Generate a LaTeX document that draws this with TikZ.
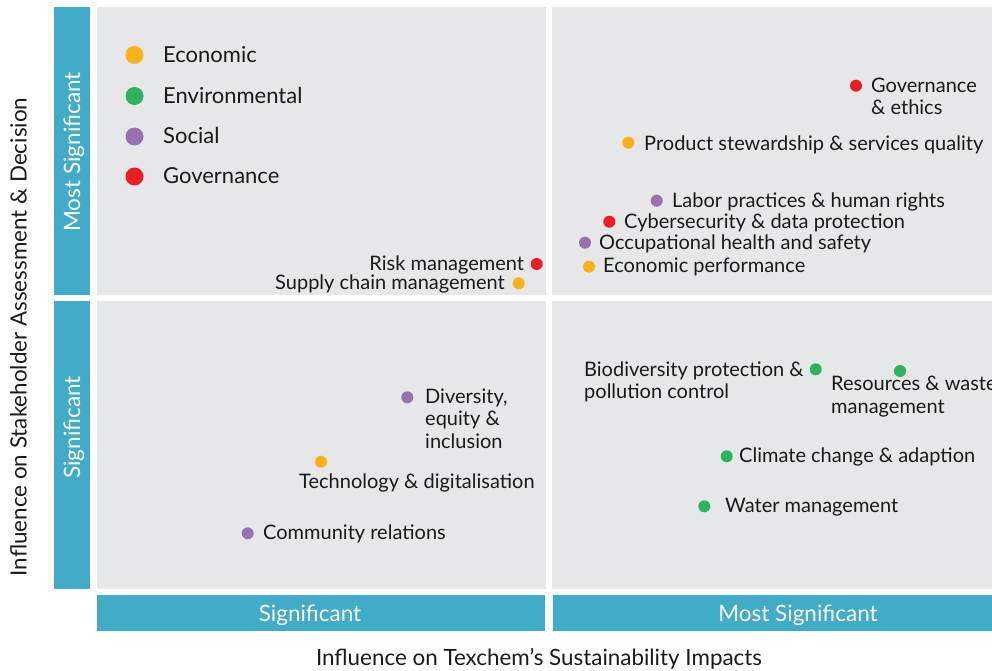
\documentclass[tikz,border=0pt]{standalone}
\usepackage{fontspec}
\setmainfont{Lato}
\definecolor{panelgray}{HTML}{E6E7E8}
\definecolor{barblue}{HTML}{40ACC7}
\definecolor{ecoc}{HTML}{FBB117}
\definecolor{envc}{HTML}{2BB45B}
\definecolor{socc}{HTML}{9A70B0}
\definecolor{govc}{HTML}{ED1C24}
\definecolor{txt}{HTML}{1A1A1A}
\tikzset{
  panel/.style={fill=panelgray, draw=none},
  bar/.style={fill=barblue, draw=none},
  dot/.style={circle, inner sep=0pt, minimum size=12pt, draw=none, fill=#1},
  bigdot/.style={circle, inner sep=0pt, minimum size=18pt, draw=none, fill=#1},
  lbl/.style={font=\fontsize{20}{22.5}\selectfont, text=txt, inner sep=0pt, align=left},
  leg/.style={font=\fontsize{22}{26}\selectfont, text=txt, inner sep=0pt, anchor=base west},
  barlbl/.style={font=\fontsize{22.5}{26}\selectfont, text=white, inner sep=0pt, anchor=base},
  axlbl/.style={font=\fontsize{22.4}{26}\selectfont, text=txt, inner sep=0pt, anchor=base},
}
\begin{document}
\begin{tikzpicture}[x=1pt,y=-1pt]
\useasboundingbox (0,0) rectangle (992,671);
% panels
\fill[panel] (97,7) rectangle (546,295);
\fill[panel] (552,7) rectangle (992,295);
\fill[panel] (97,301) rectangle (546,589);
\fill[panel] (552,301) rectangle (992,589);
% bars
\fill[bar] (54,7) rectangle (90,295);
\fill[bar] (54,301) rectangle (90,589);
\fill[bar] (97,595) rectangle (545,631);
\fill[bar] (553,595) rectangle (992,631);
\node[barlbl, rotate=90] (ylab1) at (80,152) {Most Significant};
\node[barlbl, rotate=90] (ylab2) at (80,427.5) {Significant};
\node[barlbl] (xlab1) at (310,621) {Significant};
\node[barlbl] (xlab2) at (798,621) {Most Significant};
% axis titles
\node[axlbl, rotate=90] (yaxis) at (26.7,337) {Influence on Stakeholder Assessment \& Decision};
\node[axlbl] (xaxis) at (539,665) {Influence on Texchem’s Sustainability Impacts};
% legend
\node[bigdot=ecoc] (l1) at (134.5,55) {};
\node[bigdot=envc] (l2) at (134.5,96) {};
\node[bigdot=socc] (l3) at (134.5,136.5) {};
\node[bigdot=govc] (l4) at (134.5,176.5) {};
\node[leg] (l1t) at (163,62.7) {Economic};
\node[leg] (l2t) at (163,103.3) {Environmental};
\node[leg] (l3t) at (163,143.3) {Social};
\node[leg] (l4t) at (163,183.3) {Governance};
% top-right
\node[dot=govc] (d1) at (856,85.7) {};
\node[lbl, anchor=base west] (t1) at (871,115) {Governance\\\& ethics};
\node[dot=ecoc] (d2) at (628.3,142.7) {};
\node[lbl, anchor=base west] (t2) at (644,150.7) {Product stewardship \& services quality};
\node[dot=socc] (d3) at (656.7,200.7) {};
\node[lbl, anchor=base west] (t3) at (672,207.3) {Labor practices \& human rights};
\node[dot=govc] (d4) at (609.3,221.7) {};
\node[lbl, anchor=base west] (t4) at (624,228.3) {Cybersecurity \& data protection};
\node[dot=socc] (d5) at (585,242.7) {};
\node[lbl, anchor=base west] (t5) at (599,249.3) {Occupational health and safety};
\node[dot=ecoc] (d6) at (589,266.7) {};
\node[lbl, anchor=base west] (t6) at (603,272) {Economic performance};
% top-left
\node[dot=govc] (d7) at (536.7,264) {};
\node[lbl, anchor=base east] (t7) at (524.3,270) {Risk management};
\node[dot=ecoc] (d8) at (518.7,283.3) {};
\node[lbl, anchor=base east] (t8) at (505,289) {Supply chain management};
% bottom-left
\node[dot=socc] (d9) at (407.3,397.3) {};
\node[lbl, anchor=base west] (t9) at (425,448) {Diversity,\\equity \&\\inclusion};
\node[dot=ecoc] (d10) at (321,461.7) {};
\node[lbl, anchor=base west] (t10) at (299,488.3) {Technology \& digitalisation};
\node[dot=socc] (d11) at (247.7,533.3) {};
\node[lbl, anchor=base west] (t11) at (263,539.3) {Community relations};
% bottom-right
\node[dot=envc] (d12) at (815.7,369.3) {};
\node[lbl, anchor=base west] (t12) at (584,398.5) {Biodiversity protection \&\\pollution control};
\node[dot=envc] (d13) at (900,371) {};
\node[lbl, anchor=base west] (t13) at (831,413) {Resources \& waste\\management};
\node[dot=envc] (d14) at (726.7,456.3) {};
\node[lbl, anchor=base west] (t14) at (739,462.7) {Climate change \& adaption};
\node[dot=envc] (d15) at (704.3,506.3) {};
\node[lbl, anchor=base west] (t15) at (725,512.3) {Water management};
\end{tikzpicture}
\end{document}
